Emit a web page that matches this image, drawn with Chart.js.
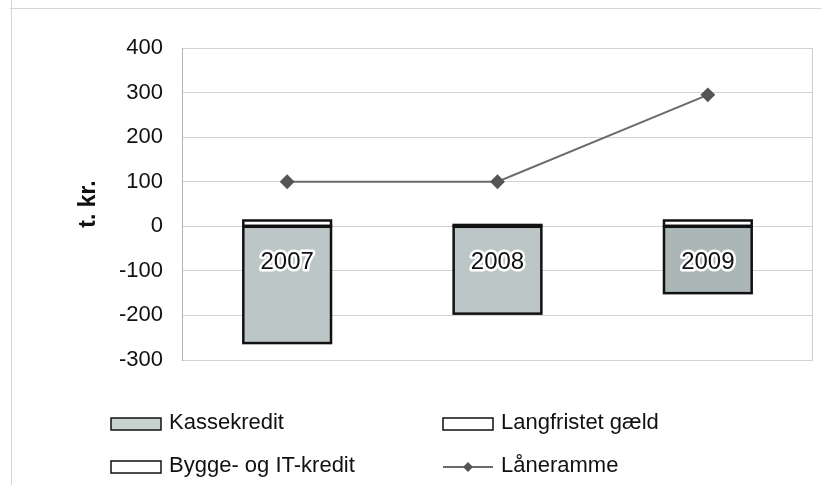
<!DOCTYPE html>
<html>
<head>
<meta charset="utf-8">
<script src="https://cdn.jsdelivr.net/npm/chart.js@4"></script>
<style>
  html, body { margin: 0; padding: 0; background: #fff; }
  #wrap { width: 821px; height: 485px; position: relative; }
</style>
</head>
<body>
<div id="wrap"><canvas id="laan"></canvas></div>
<script>
// data
var years = ['2007', '2008', '2009'];
var kassekredit = [-262, -196, -150];
var langfristet = [0, 3, 0];
var bygge = [13, 0, 13];
var laaneramme = [100, 100, 295];
var yMin = -300, yMax = 400, yStep = 100;
var labelAt = -81; // where the year label sits inside the bar

var FONT = 'Arial, "Liberation Sans", sans-serif';

// years written inside the bars, bar outlines, frame lines, legend
var extras = {
  id: 'extras',
  beforeDraw: function (chart) {
    var c = chart.ctx, a = chart.chartArea;
    c.save();
    c.strokeStyle = '#d6d6d6';
    c.lineWidth = 1;
    c.beginPath();
    c.moveTo(11.5, 0); c.lineTo(11.5, 485);
    c.moveTo(10, 8.5); c.lineTo(821, 8.5);
    c.stroke();
    c.strokeStyle = '#cfcfcf';
    c.strokeRect(a.left + 0.5, a.top + 0.5, a.right - a.left - 1, a.bottom - a.top);
    c.restore();
  },
  afterDatasetsDraw: function (chart) {
    var c = chart.ctx;
    var x = chart.scales.x, y = chart.scales.y;
    c.save();
    // outline each bar segment, centred on its edges (like Excel)
    c.strokeStyle = '#111';
    c.lineWidth = 2.5;
    chart.data.datasets.forEach(function (d, di) {
      if (d.type === 'line') return;
      chart.getDatasetMeta(di).data.forEach(function (bar) {
        if (Math.abs(bar.y - bar.base) < 0.5) return;
        var top = Math.min(bar.y, bar.base), h = Math.abs(bar.y - bar.base);
        c.strokeRect(bar.x - bar.width / 2, top, bar.width, h);
      });
    });
    c.font = '24px ' + FONT;
    c.textAlign = 'center';
    c.textBaseline = 'middle';
    c.lineJoin = 'round';
    years.forEach(function (yr, i) {
      var px = x.getPixelForValue(i), py = y.getPixelForValue(labelAt);
      c.strokeStyle = '#ffffff';
      c.lineWidth = 5;
      c.strokeText(yr, px, py);
      c.fillStyle = '#111';
      c.fillText(yr, px, py);
    });
    c.restore();
  },
  afterDraw: function (chart) {
    // legend in two columns, like the original
    var c = chart.ctx;
    var ds = chart.data.datasets;
    var cols = [111, 443], rows = [424, 467];
    var order = [1, 2, 3, 0]; // Kassekredit, Langfristet, Bygge, Laaneramme
    c.save();
    c.font = '22px ' + FONT;
    c.textBaseline = 'middle';
    order.forEach(function (di, k) {
      var d = ds[di];
      var bx = cols[k % 2], by = rows[Math.floor(k / 2)];
      if (d.type === 'line') {
        c.strokeStyle = d.borderColor;
        c.lineWidth = 2;
        c.beginPath();
        c.moveTo(bx, by); c.lineTo(bx + 50, by);
        c.stroke();
        c.fillStyle = d.pointBackgroundColor;
        c.beginPath();
        c.moveTo(bx + 25, by - 5); c.lineTo(bx + 30, by);
        c.lineTo(bx + 25, by + 5); c.lineTo(bx + 20, by);
        c.closePath(); c.fill();
      } else {
        c.fillStyle = d.legendColor;
        c.fillRect(bx, by - 6, 50, 12);
        c.strokeStyle = '#111';
        c.lineWidth = 1.5;
        c.strokeRect(bx, by - 6, 50, 12);
      }
      c.fillStyle = '#111';
      c.fillText(d.label, bx + 58, by - 1);
    });
    c.restore();
  }
};

var ctx = document.getElementById('laan');
var laanChart = new Chart(ctx, {
  type: 'bar',
  data: {
    labels: years,
    datasets: [{
      type: 'line',
      label: 'Låneramme',
      data: laaneramme,
      stack: 'line',
      order: 0,
      borderColor: '#6b6b6b',
      borderWidth: 2,
      pointStyle: 'rectRot',
      pointRadius: 6,
      pointBackgroundColor: '#555',
      pointBorderColor: '#555',
      tension: 0
    }, {
      label: 'Kassekredit',
      data: kassekredit,
      stack: 'bars',
      order: 1,
      backgroundColor: ['#bcc6c6', '#bcc6c6', '#abb6b6'],
      legendColor: '#c9d1d1',
      borderWidth: 0
    }, {
      label: 'Langfristet gæld',
      data: langfristet,
      stack: 'bars',
      order: 1,
      backgroundColor: '#ffffff',
      legendColor: '#ffffff',
      borderWidth: 0
    }, {
      label: 'Bygge- og IT-kredit',
      data: bygge,
      stack: 'bars',
      order: 1,
      backgroundColor: '#ffffff',
      legendColor: '#ffffff',
      borderWidth: 0
    }]
  },
  options: {
    responsive: true,
    maintainAspectRatio: false,
    animation: false,
    layout: {
      padding: { left: 0, right: 5, top: 48, bottom: 125 }
    },
    datasets: {
      bar: { barPercentage: 0.417, categoryPercentage: 1 }
    },
    plugins: {
      legend: { display: false },
      tooltip: { enabled: false }
    },
    scales: {
      x: {
        stacked: true,
        display: false
      },
      y: {
        stacked: true,
        min: yMin,
        max: yMax,
        afterFit: function (scale) { scale.width = 182; },
        ticks: {
          stepSize: yStep,
          padding: 19,
          color: '#111',
          font: { family: FONT, size: 22 }
        },
        grid: {
          color: '#d2d2d2',
          drawTicks: false
        },
        border: { color: '#b0b0b0' },
        title: {
          display: true,
          text: 't. kr.',
          color: '#111',
          padding: { top: 75, bottom: 0 },
          font: { family: FONT, size: 23, weight: 'bold' }
        }
      }
    }
  },
  plugins: [extras]
});
</script>
</body>
</html>
